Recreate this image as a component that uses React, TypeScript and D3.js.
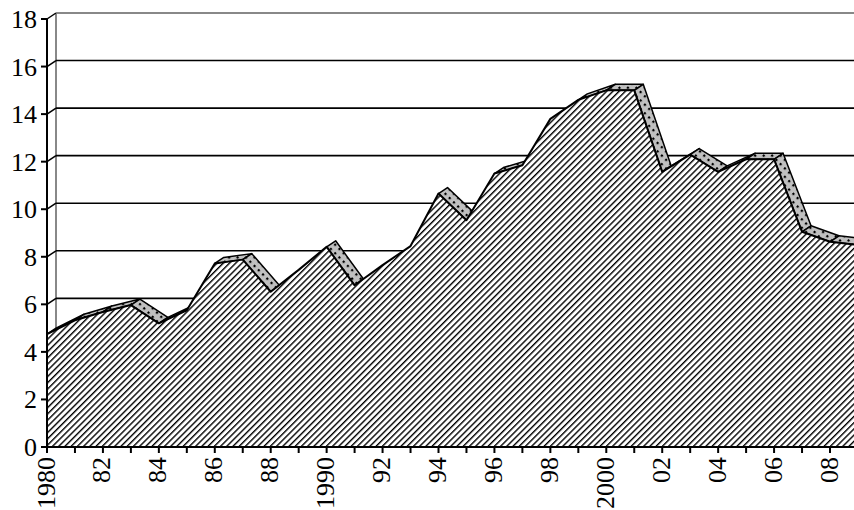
import React from 'react';
import * as d3 from 'd3';

const years = [1980,1981,1982,1983,1984,1985,1986,1987,1988,1989,1990,1991,1992,1993,1994,1995,1996,1997,1998,1999,2000,2001,2002,2003,2004,2005,2006,2007,2008,2009];
const values = [4.75,5.33,5.68,5.97,5.2,5.75,7.72,7.88,6.53,7.45,8.42,6.8,7.65,8.45,10.66,9.54,11.5,11.85,13.8,14.6,15.0,15.0,11.57,12.3,11.57,12.1,12.1,9.05,8.63,8.5];
const yTicks = [0,2,4,6,8,10,12,14,16,18];
const xLabelYears = [1980,1982,1984,1986,1988,1990,1992,1994,1996,1998,2000,2002,2004,2006,2008];
const xLabels = ["1980","82","84","86","88","1990","92","94","96","98","2000","02","04","06","08"];

export default function App() {
  const W = 854, H = 510;
  const DX = 9, DY = -6;
  const x = d3.scaleLinear().domain([1980, 2008]).range([47, 830]);
  const y = d3.scaleLinear().domain([0, 18]).range([447, 19]);
  const pts: [number, number][] = years.map((yr, i) => [x(yr), y(values[i])]);

  const area = d3.area<[number, number]>().x(d => d[0]).y0(y(0)).y1(d => d[1]);
  const line = d3.line<[number, number]>().x(d => d[0]).y(d => d[1]);

  const strips: string[] = [];
  for (let i = 0; i < pts.length - 1; i++) {
    const [x1, y1] = pts[i];
    const [x2, y2] = pts[i + 1];
    const cross = (x2 - x1) * DY - (y2 - y1) * DX;
    if (cross < 0) {
      strips.push(`M${x1},${y1}L${x2},${y2}L${x2 + DX},${y2 + DY}L${x1 + DX},${y1 + DY}Z`);
    }
  }

  const font = 'Liberation Serif, Times New Roman, Times, serif';
  const y0 = y(0);
  const textStyle = { fontFamily: font, fontSize: 26 } as React.CSSProperties;

  return (
    <div style={{ position: 'fixed', left: 0, top: 0 }}>
      <svg width={W} height={H} style={{ display: 'block', background: '#fff' }}>
        <defs>
          <pattern id="hatch" width="4.4" height="10" patternUnits="userSpaceOnUse" patternTransform="rotate(45)">
            <rect width="4.4" height="10" fill="#fff" />
            <rect width="1.4" height="10" fill="#000" />
          </pattern>
          <pattern id="dots" width="6" height="6" patternUnits="userSpaceOnUse" patternTransform="rotate(45)">
            <rect width="6" height="6" fill="#c0c0c0" />
            <rect x="1" y="1" width="2.2" height="2.2" fill="#000" />
          </pattern>
        </defs>

        {/* back wall */}
        <line x1={47 + DX} x2={47 + DX} y1={y(18) + DY} y2={y0 + DY} stroke="#888" strokeWidth={2} />
        <line x1={47 + DX} x2={W} y1={y(18) + DY} y2={y(18) + DY} stroke="#888" strokeWidth={2} />
        {yTicks.filter(v => v > 0 && v < 18).map(v => (
          <line key={'g' + v} x1={47 + DX} x2={W} y1={y(v) + DY} y2={y(v) + DY} stroke="#000" strokeWidth={1.6} />
        ))}
        {/* side wall slanted ticks */}
        {yTicks.map(v => (
          <line key={'s' + v} x1={x(1980)} y1={y(v)} x2={x(1980) + DX} y2={y(v) + DY} stroke="#000" strokeWidth={1.5} />
        ))}

        {/* top strips */}
        {strips.map((d, i) => (
          <path key={'st' + i} d={d} fill="url(#dots)" stroke="#000" strokeWidth={1.5} strokeLinejoin="round" />
        ))}

        {/* front face */}
        <path d={area(pts) || ''} fill="url(#hatch)" stroke="none" />
        <path d={line(pts) || ''} fill="none" stroke="#000" strokeWidth={2} strokeLinejoin="round" />

        {/* axes */}
        <line x1={x(1980)} x2={x(1980)} y1={y(18)} y2={y0 + 6} stroke="#000" strokeWidth={2} />
        <line x1={x(1980)} x2={W} y1={y0} y2={y0} stroke="#000" strokeWidth={2} />
        {yTicks.map(v => (
          <line key={'yt' + v} x1={41} x2={x(1980)} y1={y(v)} y2={y(v)} stroke="#000" strokeWidth={2} />
        ))}
        {years.map(yr => (
          <line key={'xt' + yr} x1={x(yr)} x2={x(yr)} y1={y0} y2={y0 + 6} stroke="#000" strokeWidth={2} />
        ))}

        {/* labels */}
        {yTicks.map(v => (
          <text key={'yl' + v} x={37} y={y(v) + 3} textAnchor="end" dominantBaseline="middle"
            style={textStyle} fill="#000">{v}</text>
        ))}
        {xLabelYears.map((yr, i) => (
          <text key={'xl' + yr} transform={`translate(${x(yr) - 1},${y0 + 10}) rotate(-90)`}
            textAnchor="end" dominantBaseline="central" style={textStyle} fill="#000">{xLabels[i]}</text>
        ))}
      </svg>
    </div>
  );
}
